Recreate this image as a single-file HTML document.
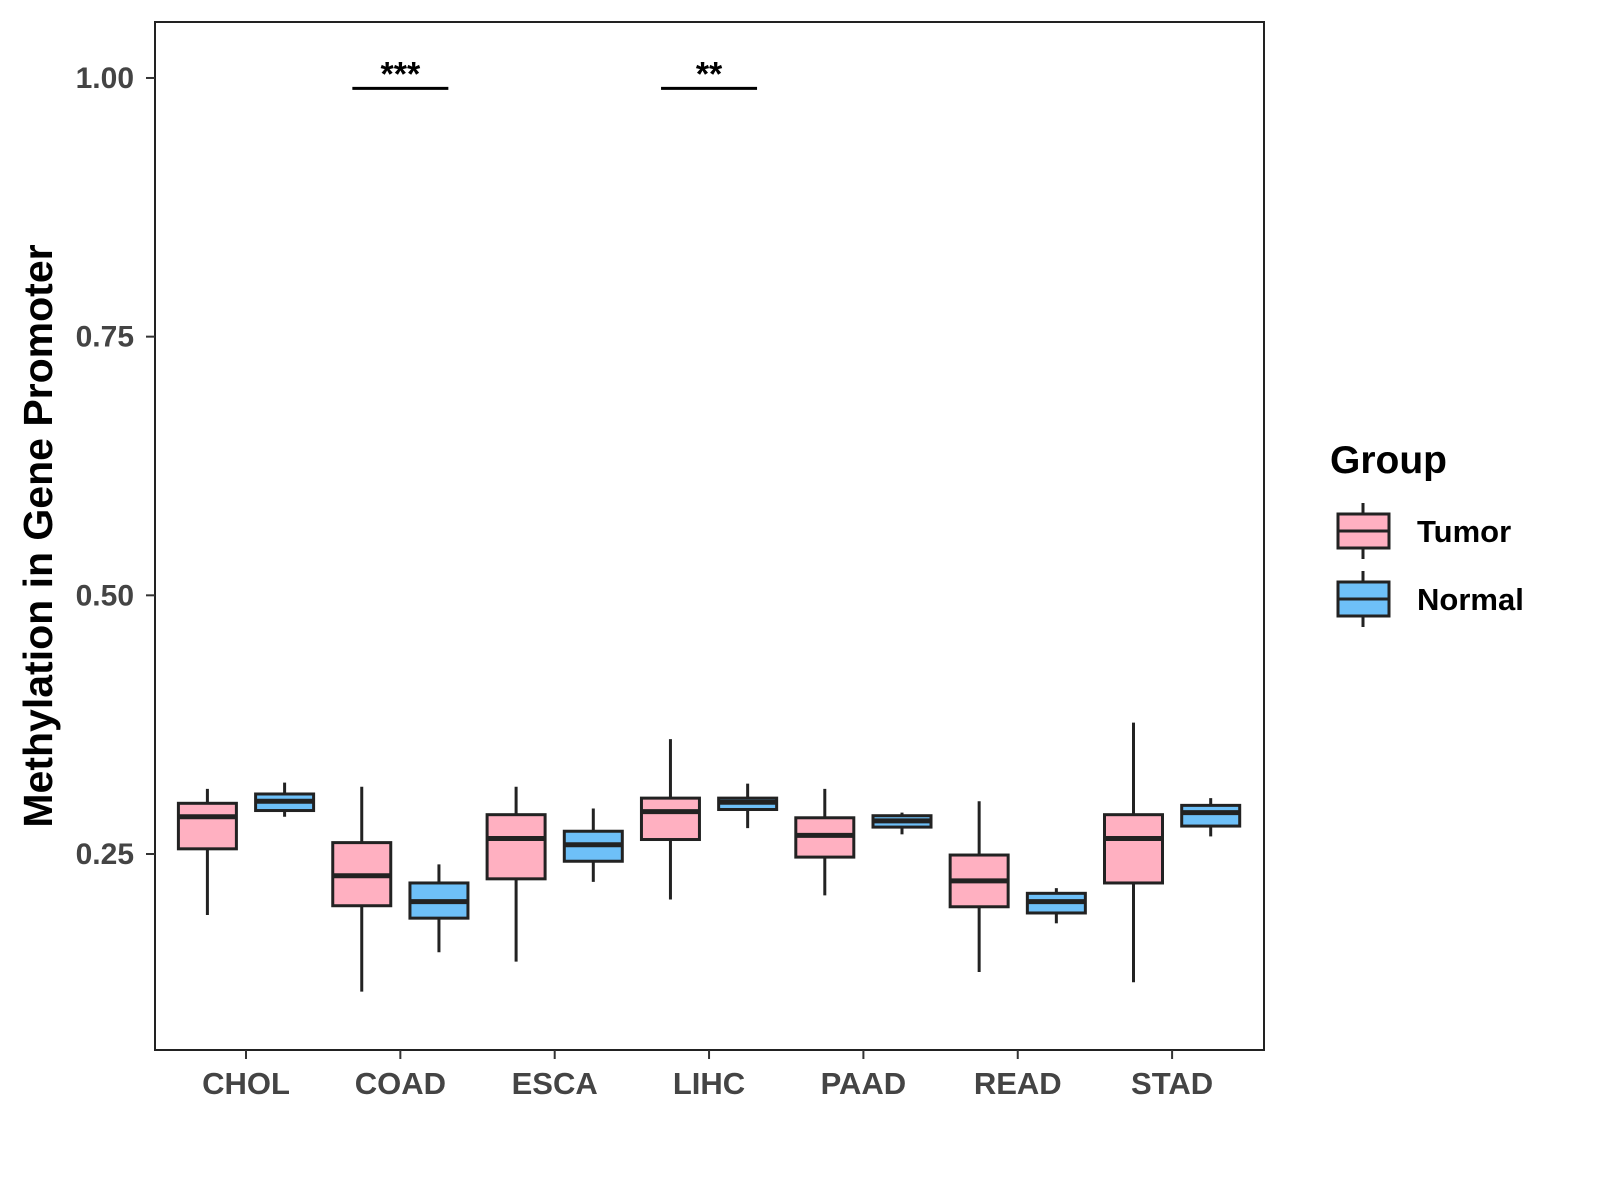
<!DOCTYPE html>
<html><head><meta charset="utf-8"><style>
body{margin:0;background:#fff}
svg{display:block;font-family:"Liberation Sans",Arial,sans-serif}
</style></head><body>
<svg id="chart" width="1600" height="1200" viewBox="0 0 1600 1200">
<rect x="155" y="22" width="1109" height="1028" fill="#fff" stroke="#222" stroke-width="2"/>
<g id="marks"></g>
<g id="axes"></g>
<text x="52" y="536" transform="rotate(-90 52 536)" text-anchor="middle" font-size="41" font-weight="bold" fill="#000">Methylation in Gene Promoter</text>
<g>
<text x="1330" y="473" font-size="39" font-weight="bold">Group</text>
<g>
<line x1="1363" y1="503" x2="1363" y2="514" stroke="#222" stroke-width="3"/>
<line x1="1363" y1="548" x2="1363" y2="559" stroke="#222" stroke-width="3"/>
<rect x="1338" y="514" width="51" height="34" fill="#FFB0C1" stroke="#222" stroke-width="3"/>
<line x1="1338" y1="531" x2="1389" y2="531" stroke="#222" stroke-width="3"/>
<text x="1417" y="542" font-size="31" font-weight="bold">Tumor</text>
</g>
<g>
<line x1="1363" y1="571" x2="1363" y2="582" stroke="#222" stroke-width="3"/>
<line x1="1363" y1="616" x2="1363" y2="627" stroke="#222" stroke-width="3"/>
<rect x="1338" y="582" width="51" height="34" fill="#6EC0F8" stroke="#222" stroke-width="3"/>
<line x1="1338" y1="599" x2="1389" y2="599" stroke="#222" stroke-width="3"/>
<text x="1417" y="610" font-size="31" font-weight="bold">Normal</text>
</g>
</g>
</svg>
<script>
const categories=["CHOL","COAD","ESCA","LIHC","PAAD","READ","STAD"];
// [whiskerLow, q1, median, q3, whiskerHigh]
const tumorStats=[[0.191,0.255,0.286,0.299,0.313],[0.117,0.200,0.229,0.261,0.315],[0.146,0.226,0.265,0.288,0.315],[0.206,0.264,0.291,0.304,0.361],[0.210,0.247,0.268,0.285,0.313],[0.136,0.199,0.224,0.249,0.301],[0.126,0.222,0.265,0.288,0.377]];
const normalStats=[[0.286,0.292,0.301,0.308,0.319],[0.155,0.188,0.204,0.222,0.240],[0.223,0.243,0.259,0.272,0.294],[0.275,0.293,0.300,0.304,0.318],[0.269,0.276,0.282,0.287,0.290],[0.183,0.193,0.204,0.212,0.217],[0.267,0.277,0.290,0.297,0.304]];
const yTicks=[0.25,0.50,0.75,1.00];
const yTickLabels=["0.25","0.50","0.75","1.00"];
const sigCategories=["COAD","LIHC"];
const sigLabels=["***","**"];
const sigY=0.99;
function y(v){return 854-(v-0.25)*1034.7;}
function x(i){return 246+i*154.35;}
const NS="http://www.w3.org/2000/svg";
function mk(tag,attrs,parent){const e=document.createElementNS(NS,tag);for(const k in attrs)e.setAttribute(k,attrs[k]);parent.appendChild(e);return e;}
const marks=document.getElementById('marks'),axes=document.getElementById('axes');
function box(cx,s,fill,name){
 const g=mk('g',{},marks);
 
 
 const w=58,st={stroke:'#222','stroke-width':3};
 mk('line',Object.assign({x1:cx,x2:cx,y1:y(s[4]),y2:y(s[0])},st),g);
 mk('rect',Object.assign({x:cx-w/2,y:y(s[3]),width:w,height:y(s[1])-y(s[3]),fill:fill},st),g);
 mk('line',{x1:cx-w/2,x2:cx+w/2,y1:y(s[2]),y2:y(s[2]),stroke:'#222','stroke-width':5},g);
}
categories.forEach((c,i)=>{
 box(x(i)-38.6,tumorStats[i],'#FFB0C1','box-tumor-'+c.toLowerCase());
 box(x(i)+38.6,normalStats[i],'#6EC0F8','box-normal-'+c.toLowerCase());
 mk('line',{x1:x(i),x2:x(i),y1:1050,y2:1059,stroke:'#333','stroke-width':2},axes);
 const t=mk('text',{x:x(i),y:1094,'text-anchor':'middle','font-size':31,'font-weight':'bold',fill:'#444'},axes);
 
 
 t.textContent=c;
});
yTicks.forEach((v,i)=>{
 mk('line',{x1:146,x2:155,y1:y(v),y2:y(v),stroke:'#333','stroke-width':2},axes);
 const t=mk('text',{x:134,y:y(v)+10,'text-anchor':'end','font-size':30,'font-weight':'bold',fill:'#444'},axes);
 
 
 t.textContent=yTickLabels[i];
});
sigCategories.forEach((c,k)=>{
 const i=categories.indexOf(c);
 const g=mk('g',{},marks);
 
 
 mk('line',{x1:x(i)-48,x2:x(i)+48,y1:y(sigY),y2:y(sigY),stroke:'#000','stroke-width':3},g);
 const t=mk('text',{x:x(i),y:y(sigY)-3,'text-anchor':'middle','font-size':34,'font-weight':'bold'},g);
 t.textContent=sigLabels[k];
});
</script>
</body></html>
